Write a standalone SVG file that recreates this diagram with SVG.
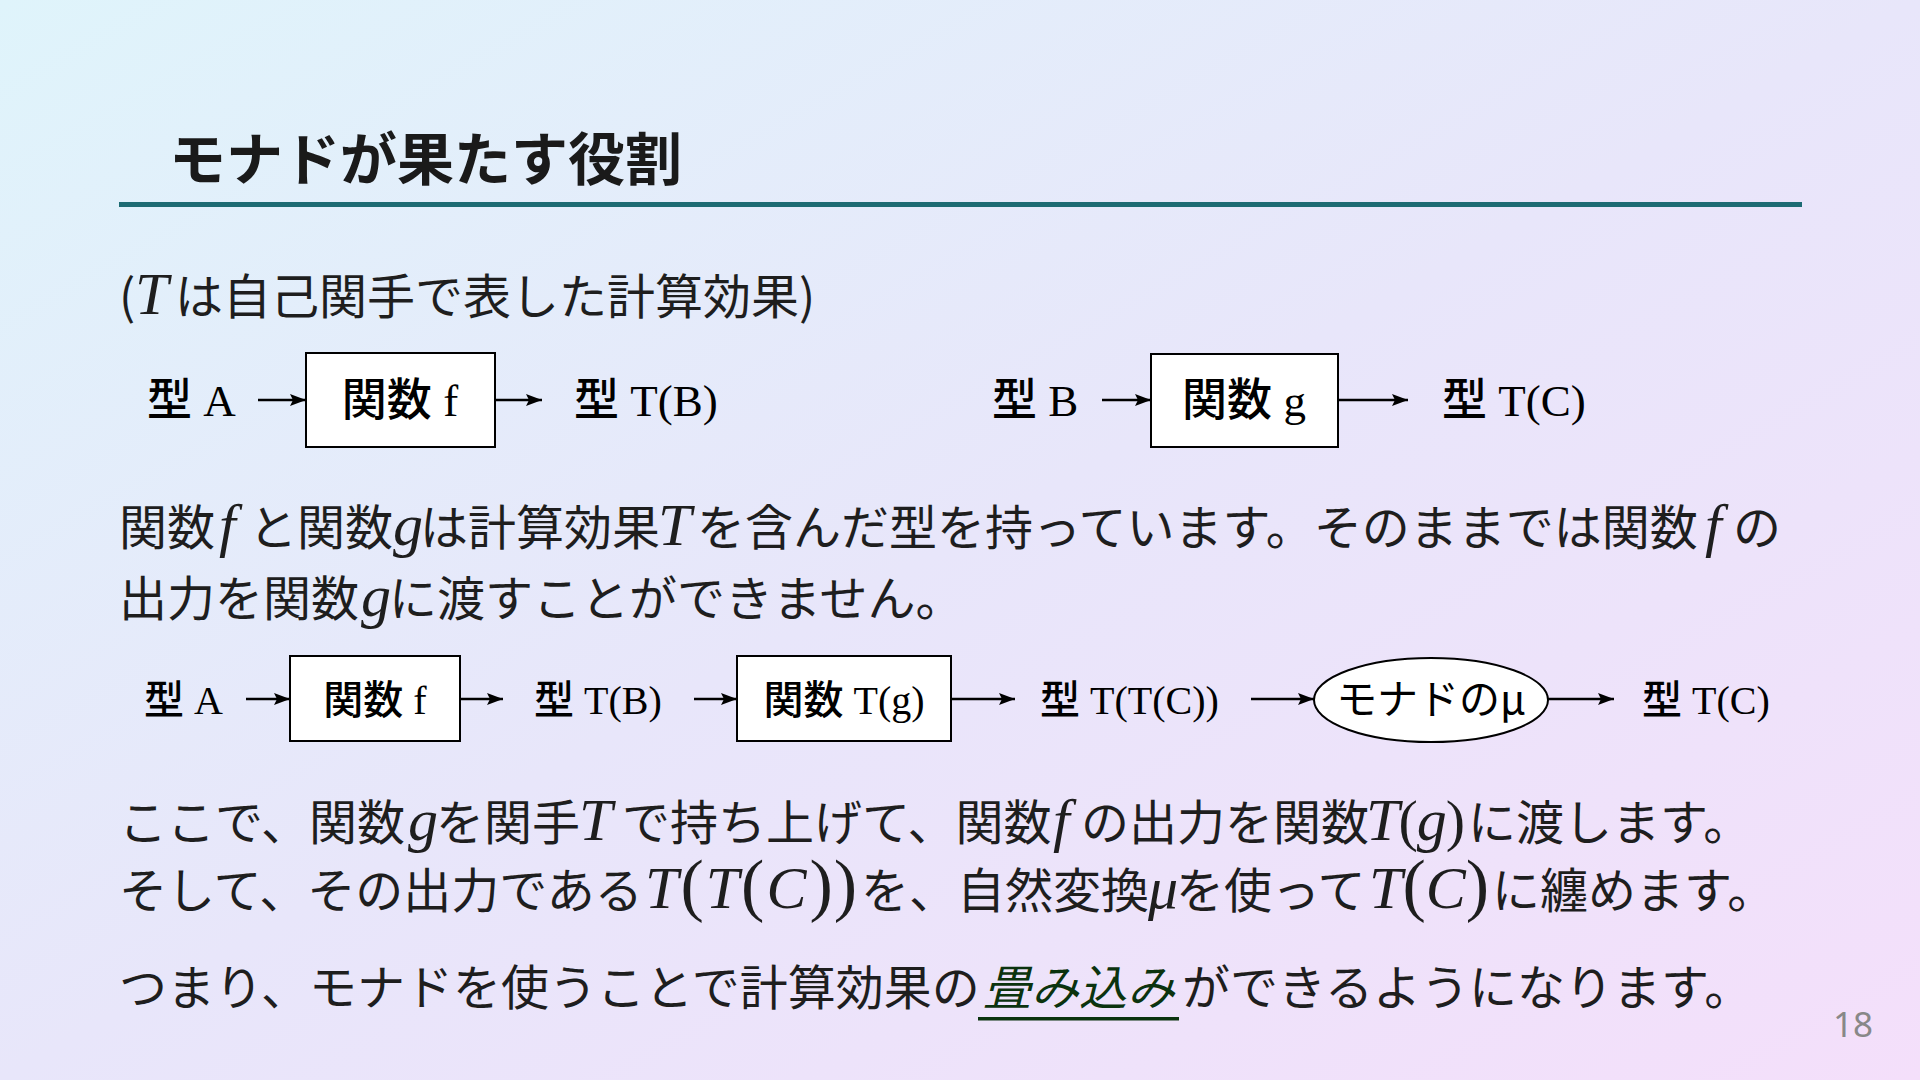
<svg xmlns="http://www.w3.org/2000/svg" width="1920" height="1080" viewBox="0 0 1920 1080">
<defs>
<linearGradient id="bg" x1="0" y1="0" x2="1" y2="1">
<stop offset="0" stop-color="#dff4fb"/>
<stop offset="0.5" stop-color="#e8e6fa"/>
<stop offset="1" stop-color="#f4dffa"/>
</linearGradient>
<marker id="ah" markerUnits="userSpaceOnUse" markerWidth="16" markerHeight="12" refX="16" refY="6" orient="auto">
<path d="M0,0 L16,6 L0,12 L3,6 z" fill="#000"/>
</marker>
<style>
.title{font-family:"Noto Sans CJK JP","Noto Sans",sans-serif;font-weight:700;font-size:57px;fill:#1a1a1a}
.body{font-family:"Noto Sans CJK JP","Noto Sans",sans-serif;font-size:48px;fill:#1e1e1e}
.m{font-family:"Liberation Serif","DejaVu Serif",serif;font-style:italic;font-size:60px}
.p{font-family:"Liberation Serif","DejaVu Serif",serif;font-style:normal;font-size:70px}
.p2{font-family:"Liberation Serif","DejaVu Serif",serif;font-style:normal;font-size:58px}
.d1{font-family:"Liberation Serif","Noto Sans CJK JP",serif;font-size:45px;fill:#000}
.d2{font-family:"Liberation Serif","Noto Sans CJK JP",serif;font-size:40px;fill:#000}
.ds{font-family:"Noto Sans CJK JP","Noto Sans",sans-serif;font-size:41px;fill:#000}
.cj{font-weight:500}
.box{fill:#fff;stroke:#000;stroke-width:2}
.arr{stroke:#000;stroke-width:2.5;fill:none;marker-end:url(#ah)}
.em{fill:#0b330e;font-style:italic}
.pg{font-family:"Noto Sans","Noto Sans CJK JP",sans-serif;font-size:35px;fill:#888}
</style>
</defs>
<rect x="0" y="0" width="1920" height="1080" fill="url(#bg)"/>

<g id="title">
<text class="title" x="169" y="180">モナドが果たす役割</text>
<rect x="119" y="202" width="1683" height="5" fill="#1d6b73"/>
</g>

<g id="subtitle">
<text class="body" y="314"><tspan x="119">(</tspan><tspan class="m" x="135">T</tspan><tspan x="175">は自己関手で表した計算効果</tspan><tspan x="799">)</tspan></text>
</g>

<g id="row1">
<g id="r1-typeA"><text class="d1" x="147" y="416"><tspan class="cj">型</tspan> A</text></g>
<g id="r1-f"><rect class="box" x="306" y="353" width="189" height="94"/><text class="d1" x="400" y="416" text-anchor="middle"><tspan class="cj">関数</tspan> f</text></g>
<g id="r1-typeTB"><text class="d1" x="574" y="416"><tspan class="cj">型</tspan> T(B)</text></g>
<g id="r1-typeB"><text class="d1" x="992" y="416"><tspan class="cj">型</tspan> B</text></g>
<g id="r1-g"><rect class="box" x="1151" y="354" width="187" height="93"/><text class="d1" x="1244" y="416" text-anchor="middle"><tspan class="cj">関数</tspan> g</text></g>
<g id="r1-typeTC"><text class="d1" x="1442" y="416"><tspan class="cj">型</tspan> T(C)</text></g>
</g>

<g id="para1">
<text class="body" y="545"><tspan x="119">関数</tspan><tspan class="m" x="219">f</tspan><tspan x="249">と関数</tspan><tspan class="m" x="393">g</tspan><tspan x="420">は計算効果</tspan><tspan class="m" x="658">T</tspan><tspan x="697">を含んだ型を持っています。そのままでは関数</tspan><tspan class="m" x="1705">f</tspan><tspan x="1733">の</tspan></text>
<text class="body" y="616"><tspan x="119">出力を関数</tspan><tspan class="m" x="361">g</tspan><tspan x="389">に渡すことができません。</tspan></text>
</g>

<g id="row2">
<g id="r2-typeA"><text class="d2" x="144" y="714"><tspan class="cj">型</tspan> A</text></g>
<g id="r2-f"><rect class="box" x="290" y="656" width="170" height="85"/><text class="d2" x="375" y="714" text-anchor="middle"><tspan class="cj">関数</tspan> f</text></g>
<g id="r2-typeTB"><text class="d2" x="534" y="714"><tspan class="cj">型</tspan> T(B)</text></g>
<g id="r2-Tg"><rect class="box" x="737" y="656" width="214" height="85"/><text class="d2" x="844" y="714" text-anchor="middle"><tspan class="cj">関数</tspan> T(g)</text></g>
<g id="r2-typeTTC"><text class="d2" x="1040" y="714"><tspan class="cj">型</tspan> T(T(C))</text></g>
<g id="r2-mu"><ellipse class="box" cx="1431" cy="700" rx="117" ry="42"/><text class="ds" x="1431" y="714" text-anchor="middle">モナドのμ</text></g>
<g id="r2-typeTC"><text class="d2" x="1642" y="714"><tspan class="cj">型</tspan> T(C)</text></g>
</g>

<g id="connectors">
<line class="arr" x1="258" y1="400" x2="306" y2="400"/>
<line class="arr" x1="495" y1="400" x2="542" y2="400"/>
<line class="arr" x1="1102" y1="400" x2="1151" y2="400"/>
<line class="arr" x1="1338" y1="400" x2="1408" y2="400"/>
<line class="arr" x1="246" y1="699" x2="290" y2="699"/>
<line class="arr" x1="460" y1="699" x2="503" y2="699"/>
<line class="arr" x1="694" y1="699" x2="737" y2="699"/>
<line class="arr" x1="951" y1="699" x2="1015" y2="699"/>
<line class="arr" x1="1251" y1="699" x2="1314" y2="699"/>
<line class="arr" x1="1548" y1="699" x2="1614" y2="699"/>
</g>

<g id="para2">
<text class="body" y="840"><tspan x="119">ここで、関数</tspan><tspan class="m" x="408">g</tspan><tspan x="436">を関手</tspan><tspan class="m" x="579">T</tspan><tspan x="622">で持ち上げて、関数</tspan><tspan class="m" x="1053">f</tspan><tspan x="1081">の出力を関数</tspan><tspan class="m" x="1366">T</tspan><tspan class="p2" dx="-1">(</tspan><tspan class="m" dx="-1">g</tspan><tspan class="p2" dx="-1">)</tspan><tspan x="1468">に渡します。</tspan></text>
<text class="body" y="908"><tspan x="119">そして、その出力である</tspan><tspan class="m" x="645">T</tspan><tspan class="p" dx="2">(</tspan><tspan class="m" dx="2">T</tspan><tspan class="p" dx="2">(</tspan><tspan class="m" dx="2">C</tspan><tspan class="p" dx="3">)</tspan><tspan class="p" dx="1">)</tspan><tspan x="861">を、自然変換</tspan><tspan class="m" x="1148">μ</tspan><tspan x="1176">を使って</tspan><tspan class="m" x="1369">T</tspan><tspan class="p">(</tspan><tspan class="m">C</tspan><tspan class="p">)</tspan><tspan x="1492">に纏めます。</tspan></text>
<text class="body" y="1005"><tspan x="119">つまり、モナドを使うことで計算効果の</tspan><tspan class="em" x="983">畳み込み</tspan><tspan x="1182">ができるようになります。</tspan></text>
<rect x="978" y="1017" width="201" height="3.5" fill="#0b330e"/>
</g>

<g id="page"><text class="pg" x="1873" y="1037" text-anchor="end">18</text></g>
</svg>
